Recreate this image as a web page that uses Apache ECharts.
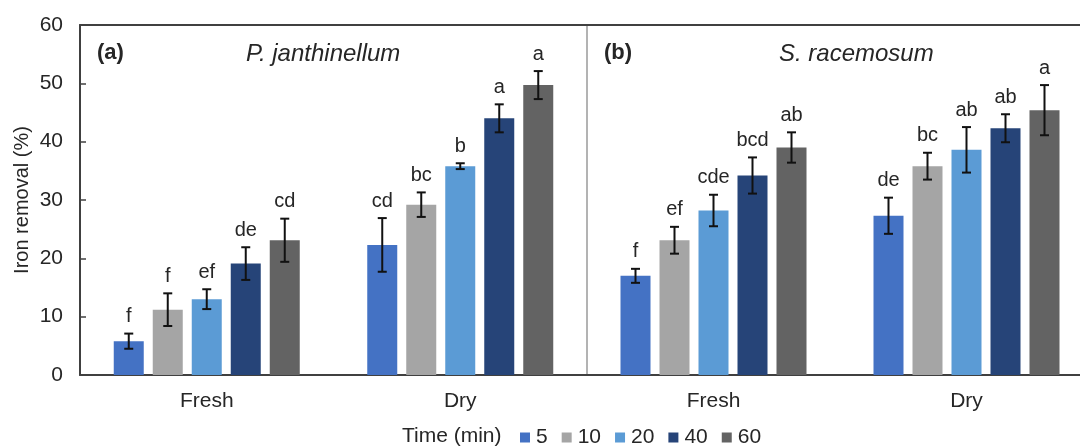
<!DOCTYPE html>
<html>
<head>
<meta charset="utf-8">
<script src="https://cdn.jsdelivr.net/npm/echarts@6/dist/echarts.min.js"></script>
<style>
html,body{margin:0;padding:0;background:#fff;}
#chart{width:1080px;height:448px;}
</style>
</head>
<body>
<div id="chart"></div>
<script>
// ---- Data ----
const categories = ['Fresh', 'Dry'];
const times = ['5', '10', '20', '40', '60'];
const yTicks = [0, 10, 20, 30, 40, 50, 60];

// Panel (a) P. janthinellum : rows = time, cols = [Fresh, Dry]
const meanA = [[5.8, 22.3], [11.2, 29.2], [13.0, 35.8], [19.1, 44.0], [23.1, 49.7]];
const sdA   = [[1.3, 4.6], [2.8, 2.1], [1.7, 0.5], [2.8, 2.4], [3.7, 2.4]];
const letA  = [['f', 'cd'], ['f', 'bc'], ['ef', 'b'], ['de', 'a'], ['cd', 'a']];

// Panel (b) S. racemosum
const meanB = [[17.0, 27.3], [23.1, 35.8], [28.2, 38.6], [34.2, 42.3], [39.0, 45.4]];
const sdB   = [[1.2, 3.1], [2.3, 2.3], [2.7, 3.9], [3.1, 2.4], [2.6, 4.3]];
const letB  = [['f', 'de'], ['ef', 'bc'], ['cde', 'ab'], ['bcd', 'ab'], ['ab', 'a']];

const colors = ['#4472C4', '#A5A5A5', '#5B9BD5', '#264478', '#636363'];

// ---- Style constants ----
const FONT = 'Liberation Sans, Arial, sans-serif';
const TXT = '#262626';
const AX = '#404040';
const BAR_W = 30;
const GAP = 0.3;

const chart = echarts.init(document.getElementById('chart'));

function barSeries(means, panel) {
  return times.map((t, i) => ({
    type: 'bar', name: t,
    xAxisIndex: panel, yAxisIndex: panel,
    barWidth: BAR_W, barGap: (GAP * 100) + '%',
    itemStyle: { color: colors[i] },
    data: means[i]
  }));
}

function errSeries(means, sds, lets, panel) {
  const data = [];
  means.forEach((row, t) => row.forEach((m, c) => data.push([c, t, m, sds[t][c], lets[t][c]])));
  return {
    type: 'custom',
    xAxisIndex: panel, yAxisIndex: panel,
    z: 10,
    data: data,
    renderItem: function (params, api) {
      const d = data[params.dataIndex];
      const c = d[0], t = d[1], m = d[2], sd = d[3];
      const off = (t - 2) * BAR_W * (1 + GAP);
      const top = api.coord([c, m + sd]);
      const bot = api.coord([c, m - sd]);
      const x = top[0] + off;
      const cap = 4.5;
      const st = { stroke: '#111', lineWidth: 2 };
      return {
        type: 'group',
        children: [
          { type: 'line', shape: { x1: x, y1: top[1], x2: x, y2: bot[1] }, style: st },
          { type: 'line', shape: { x1: x - cap, y1: top[1], x2: x + cap, y2: top[1] }, style: st },
          { type: 'line', shape: { x1: x - cap, y1: bot[1], x2: x + cap, y2: bot[1] }, style: st },
          { type: 'text', style: { text: d[4], x: x, y: top[1] - 7, align: 'center', verticalAlign: 'bottom',
              font: '20px ' + FONT, fill: TXT } }
        ]
      };
    }
  };
}

const yBase = {
  type: 'value', min: yTicks[0], max: yTicks[yTicks.length - 1], interval: 10,
  splitLine: { show: false }
};

const option = {
  animation: false,
  textStyle: { fontFamily: FONT },
  grid: [
    { left: 80, top: 25, width: 507, height: 350, outerBoundsMode: 'none', containLabel: false },
    { left: 587, top: 25, width: 506, height: 350, outerBoundsMode: 'none', containLabel: false }
  ],
  legend: {
    data: times, left: 515, top: 422,
    icon: 'rect', itemWidth: 10, itemHeight: 10, itemGap: 14,
    textStyle: { fontSize: 21, color: TXT, fontFamily: FONT, padding: [0, 0, 0, 1] }
  },
  xAxis: [
    { type: 'category', data: categories, gridIndex: 0, position: 'bottom',
      axisLine: { lineStyle: { color: AX, width: 2 } }, axisTick: { show: false },
      axisLabel: { fontSize: 21, color: TXT, margin: 16 } },
    { type: 'category', data: categories, gridIndex: 1, position: 'bottom',
      axisLine: { lineStyle: { color: AX, width: 2 } }, axisTick: { show: false },
      axisLabel: { fontSize: 21, color: TXT, margin: 16 } },
    { type: 'category', data: categories, gridIndex: 0, position: 'top',
      axisLine: { lineStyle: { color: AX, width: 2 } }, axisTick: { show: false }, axisLabel: { show: false } },
    { type: 'category', data: categories, gridIndex: 1, position: 'top',
      axisLine: { lineStyle: { color: AX, width: 2 } }, axisTick: { show: false }, axisLabel: { show: false } }
  ],
  yAxis: [
    Object.assign({}, yBase, {
      gridIndex: 0,
      name: 'Iron removal (%)', nameLocation: 'middle', nameGap: 48, nameRotate: 90,
      nameTextStyle: { fontSize: 20, color: TXT },
      axisLine: { show: true, lineStyle: { color: AX, width: 2 } },
      axisTick: { show: true, inside: true, length: 6, lineStyle: { color: AX, width: 1.5 } },
      axisLabel: { fontSize: 21, color: TXT, margin: 17 }
    }),
    Object.assign({}, yBase, {
      gridIndex: 1,
      axisLine: { show: true, lineStyle: { color: '#9a9a9a', width: 1.5 } },
      axisTick: { show: false }, axisLabel: { show: false }
    })
  ],
  graphic: [
    { type: 'text', left: 97, top: 42, style: { text: '(a)', font: 'bold 22px ' + FONT, fill: TXT } },
    { type: 'text', left: 246, top: 42, style: { text: 'P. janthinellum', font: 'italic 24px ' + FONT, fill: TXT } },
    { type: 'text', left: 604, top: 42, style: { text: '(b)', font: 'bold 22px ' + FONT, fill: TXT } },
    { type: 'text', left: 779, top: 42, style: { text: 'S. racemosum', font: 'italic 24px ' + FONT, fill: TXT } },
    { type: 'text', left: 402, top: 426, style: { text: 'Time (min)', font: '21px ' + FONT, fill: TXT } }
  ],
  series: [].concat(
    barSeries(meanA, 0),
    barSeries(meanB, 1),
    [errSeries(meanA, sdA, letA, 0), errSeries(meanB, sdB, letB, 1)]
  )
};
chart.setOption(option);
</script>
</body>
</html>
